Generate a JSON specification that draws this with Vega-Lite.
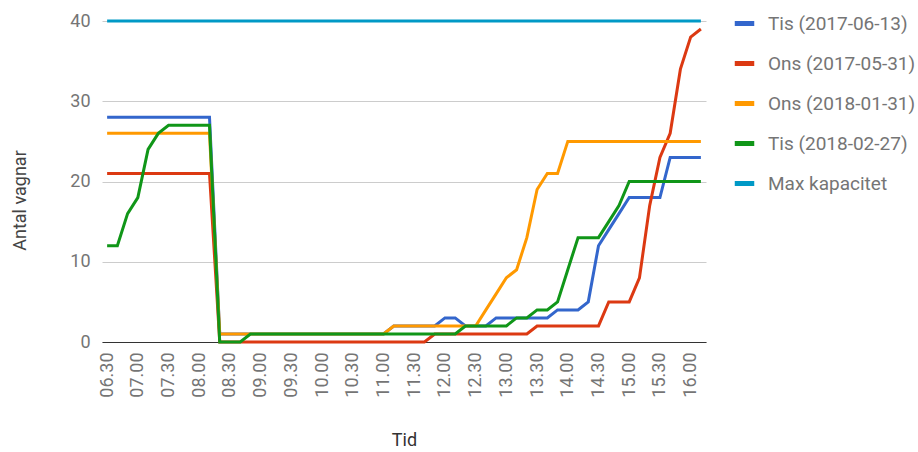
{
  "$schema": "https://vega.github.io/schema/vega-lite/v6.json",
  "width": 604,
  "height": 321,
  "autosize": "none",
  "padding": {"left": 102, "top": 21, "right": 212, "bottom": 110},
  "background": "white",
  "config": {
    "font": "Roboto",
    "view": {"stroke": null}
  },
  "data": {
    "values": [
      {"Tid": "06.30", "Tis (2017-06-13)": 28, "Ons (2017-05-31)": 21, "Ons (2018-01-31)": 26, "Tis (2018-02-27)": 12, "Max kapacitet": 40},
      {"Tid": "06.40", "Tis (2017-06-13)": 28, "Ons (2017-05-31)": 21, "Ons (2018-01-31)": 26, "Tis (2018-02-27)": 12, "Max kapacitet": 40},
      {"Tid": "06.50", "Tis (2017-06-13)": 28, "Ons (2017-05-31)": 21, "Ons (2018-01-31)": 26, "Tis (2018-02-27)": 16, "Max kapacitet": 40},
      {"Tid": "07.00", "Tis (2017-06-13)": 28, "Ons (2017-05-31)": 21, "Ons (2018-01-31)": 26, "Tis (2018-02-27)": 18, "Max kapacitet": 40},
      {"Tid": "07.10", "Tis (2017-06-13)": 28, "Ons (2017-05-31)": 21, "Ons (2018-01-31)": 26, "Tis (2018-02-27)": 24, "Max kapacitet": 40},
      {"Tid": "07.20", "Tis (2017-06-13)": 28, "Ons (2017-05-31)": 21, "Ons (2018-01-31)": 26, "Tis (2018-02-27)": 26, "Max kapacitet": 40},
      {"Tid": "07.30", "Tis (2017-06-13)": 28, "Ons (2017-05-31)": 21, "Ons (2018-01-31)": 26, "Tis (2018-02-27)": 27, "Max kapacitet": 40},
      {"Tid": "07.40", "Tis (2017-06-13)": 28, "Ons (2017-05-31)": 21, "Ons (2018-01-31)": 26, "Tis (2018-02-27)": 27, "Max kapacitet": 40},
      {"Tid": "07.50", "Tis (2017-06-13)": 28, "Ons (2017-05-31)": 21, "Ons (2018-01-31)": 26, "Tis (2018-02-27)": 27, "Max kapacitet": 40},
      {"Tid": "08.00", "Tis (2017-06-13)": 28, "Ons (2017-05-31)": 21, "Ons (2018-01-31)": 26, "Tis (2018-02-27)": 27, "Max kapacitet": 40},
      {"Tid": "08.10", "Tis (2017-06-13)": 28, "Ons (2017-05-31)": 21, "Ons (2018-01-31)": 26, "Tis (2018-02-27)": 27, "Max kapacitet": 40},
      {"Tid": "08.20", "Tis (2017-06-13)": 1, "Ons (2017-05-31)": 0, "Ons (2018-01-31)": 1, "Tis (2018-02-27)": 0, "Max kapacitet": 40},
      {"Tid": "08.30", "Tis (2017-06-13)": 1, "Ons (2017-05-31)": 0, "Ons (2018-01-31)": 1, "Tis (2018-02-27)": 0, "Max kapacitet": 40},
      {"Tid": "08.40", "Tis (2017-06-13)": 1, "Ons (2017-05-31)": 0, "Ons (2018-01-31)": 1, "Tis (2018-02-27)": 0, "Max kapacitet": 40},
      {"Tid": "08.50", "Tis (2017-06-13)": 1, "Ons (2017-05-31)": 0, "Ons (2018-01-31)": 1, "Tis (2018-02-27)": 1, "Max kapacitet": 40},
      {"Tid": "09.00", "Tis (2017-06-13)": 1, "Ons (2017-05-31)": 0, "Ons (2018-01-31)": 1, "Tis (2018-02-27)": 1, "Max kapacitet": 40},
      {"Tid": "09.10", "Tis (2017-06-13)": 1, "Ons (2017-05-31)": 0, "Ons (2018-01-31)": 1, "Tis (2018-02-27)": 1, "Max kapacitet": 40},
      {"Tid": "09.20", "Tis (2017-06-13)": 1, "Ons (2017-05-31)": 0, "Ons (2018-01-31)": 1, "Tis (2018-02-27)": 1, "Max kapacitet": 40},
      {"Tid": "09.30", "Tis (2017-06-13)": 1, "Ons (2017-05-31)": 0, "Ons (2018-01-31)": 1, "Tis (2018-02-27)": 1, "Max kapacitet": 40},
      {"Tid": "09.40", "Tis (2017-06-13)": 1, "Ons (2017-05-31)": 0, "Ons (2018-01-31)": 1, "Tis (2018-02-27)": 1, "Max kapacitet": 40},
      {"Tid": "09.50", "Tis (2017-06-13)": 1, "Ons (2017-05-31)": 0, "Ons (2018-01-31)": 1, "Tis (2018-02-27)": 1, "Max kapacitet": 40},
      {"Tid": "10.00", "Tis (2017-06-13)": 1, "Ons (2017-05-31)": 0, "Ons (2018-01-31)": 1, "Tis (2018-02-27)": 1, "Max kapacitet": 40},
      {"Tid": "10.10", "Tis (2017-06-13)": 1, "Ons (2017-05-31)": 0, "Ons (2018-01-31)": 1, "Tis (2018-02-27)": 1, "Max kapacitet": 40},
      {"Tid": "10.20", "Tis (2017-06-13)": 1, "Ons (2017-05-31)": 0, "Ons (2018-01-31)": 1, "Tis (2018-02-27)": 1, "Max kapacitet": 40},
      {"Tid": "10.30", "Tis (2017-06-13)": 1, "Ons (2017-05-31)": 0, "Ons (2018-01-31)": 1, "Tis (2018-02-27)": 1, "Max kapacitet": 40},
      {"Tid": "10.40", "Tis (2017-06-13)": 1, "Ons (2017-05-31)": 0, "Ons (2018-01-31)": 1, "Tis (2018-02-27)": 1, "Max kapacitet": 40},
      {"Tid": "10.50", "Tis (2017-06-13)": 1, "Ons (2017-05-31)": 0, "Ons (2018-01-31)": 1, "Tis (2018-02-27)": 1, "Max kapacitet": 40},
      {"Tid": "11.00", "Tis (2017-06-13)": 1, "Ons (2017-05-31)": 0, "Ons (2018-01-31)": 1, "Tis (2018-02-27)": 1, "Max kapacitet": 40},
      {"Tid": "11.10", "Tis (2017-06-13)": 2, "Ons (2017-05-31)": 0, "Ons (2018-01-31)": 2, "Tis (2018-02-27)": 1, "Max kapacitet": 40},
      {"Tid": "11.20", "Tis (2017-06-13)": 2, "Ons (2017-05-31)": 0, "Ons (2018-01-31)": 2, "Tis (2018-02-27)": 1, "Max kapacitet": 40},
      {"Tid": "11.30", "Tis (2017-06-13)": 2, "Ons (2017-05-31)": 0, "Ons (2018-01-31)": 2, "Tis (2018-02-27)": 1, "Max kapacitet": 40},
      {"Tid": "11.40", "Tis (2017-06-13)": 2, "Ons (2017-05-31)": 0, "Ons (2018-01-31)": 2, "Tis (2018-02-27)": 1, "Max kapacitet": 40},
      {"Tid": "11.50", "Tis (2017-06-13)": 2, "Ons (2017-05-31)": 1, "Ons (2018-01-31)": 2, "Tis (2018-02-27)": 1, "Max kapacitet": 40},
      {"Tid": "12.00", "Tis (2017-06-13)": 3, "Ons (2017-05-31)": 1, "Ons (2018-01-31)": 2, "Tis (2018-02-27)": 1, "Max kapacitet": 40},
      {"Tid": "12.10", "Tis (2017-06-13)": 3, "Ons (2017-05-31)": 1, "Ons (2018-01-31)": 2, "Tis (2018-02-27)": 1, "Max kapacitet": 40},
      {"Tid": "12.20", "Tis (2017-06-13)": 2, "Ons (2017-05-31)": 1, "Ons (2018-01-31)": 2, "Tis (2018-02-27)": 2, "Max kapacitet": 40},
      {"Tid": "12.30", "Tis (2017-06-13)": 2, "Ons (2017-05-31)": 1, "Ons (2018-01-31)": 2, "Tis (2018-02-27)": 2, "Max kapacitet": 40},
      {"Tid": "12.40", "Tis (2017-06-13)": 2, "Ons (2017-05-31)": 1, "Ons (2018-01-31)": 4, "Tis (2018-02-27)": 2, "Max kapacitet": 40},
      {"Tid": "12.50", "Tis (2017-06-13)": 3, "Ons (2017-05-31)": 1, "Ons (2018-01-31)": 6, "Tis (2018-02-27)": 2, "Max kapacitet": 40},
      {"Tid": "13.00", "Tis (2017-06-13)": 3, "Ons (2017-05-31)": 1, "Ons (2018-01-31)": 8, "Tis (2018-02-27)": 2, "Max kapacitet": 40},
      {"Tid": "13.10", "Tis (2017-06-13)": 3, "Ons (2017-05-31)": 1, "Ons (2018-01-31)": 9, "Tis (2018-02-27)": 3, "Max kapacitet": 40},
      {"Tid": "13.20", "Tis (2017-06-13)": 3, "Ons (2017-05-31)": 1, "Ons (2018-01-31)": 13, "Tis (2018-02-27)": 3, "Max kapacitet": 40},
      {"Tid": "13.30", "Tis (2017-06-13)": 3, "Ons (2017-05-31)": 2, "Ons (2018-01-31)": 19, "Tis (2018-02-27)": 4, "Max kapacitet": 40},
      {"Tid": "13.40", "Tis (2017-06-13)": 3, "Ons (2017-05-31)": 2, "Ons (2018-01-31)": 21, "Tis (2018-02-27)": 4, "Max kapacitet": 40},
      {"Tid": "13.50", "Tis (2017-06-13)": 4, "Ons (2017-05-31)": 2, "Ons (2018-01-31)": 21, "Tis (2018-02-27)": 5, "Max kapacitet": 40},
      {"Tid": "14.00", "Tis (2017-06-13)": 4, "Ons (2017-05-31)": 2, "Ons (2018-01-31)": 25, "Tis (2018-02-27)": 9, "Max kapacitet": 40},
      {"Tid": "14.10", "Tis (2017-06-13)": 4, "Ons (2017-05-31)": 2, "Ons (2018-01-31)": 25, "Tis (2018-02-27)": 13, "Max kapacitet": 40},
      {"Tid": "14.20", "Tis (2017-06-13)": 5, "Ons (2017-05-31)": 2, "Ons (2018-01-31)": 25, "Tis (2018-02-27)": 13, "Max kapacitet": 40},
      {"Tid": "14.30", "Tis (2017-06-13)": 12, "Ons (2017-05-31)": 2, "Ons (2018-01-31)": 25, "Tis (2018-02-27)": 13, "Max kapacitet": 40},
      {"Tid": "14.40", "Tis (2017-06-13)": 14, "Ons (2017-05-31)": 5, "Ons (2018-01-31)": 25, "Tis (2018-02-27)": 15, "Max kapacitet": 40},
      {"Tid": "14.50", "Tis (2017-06-13)": 16, "Ons (2017-05-31)": 5, "Ons (2018-01-31)": 25, "Tis (2018-02-27)": 17, "Max kapacitet": 40},
      {"Tid": "15.00", "Tis (2017-06-13)": 18, "Ons (2017-05-31)": 5, "Ons (2018-01-31)": 25, "Tis (2018-02-27)": 20, "Max kapacitet": 40},
      {"Tid": "15.10", "Tis (2017-06-13)": 18, "Ons (2017-05-31)": 8, "Ons (2018-01-31)": 25, "Tis (2018-02-27)": 20, "Max kapacitet": 40},
      {"Tid": "15.20", "Tis (2017-06-13)": 18, "Ons (2017-05-31)": 17, "Ons (2018-01-31)": 25, "Tis (2018-02-27)": 20, "Max kapacitet": 40},
      {"Tid": "15.30", "Tis (2017-06-13)": 18, "Ons (2017-05-31)": 23, "Ons (2018-01-31)": 25, "Tis (2018-02-27)": 20, "Max kapacitet": 40},
      {"Tid": "15.40", "Tis (2017-06-13)": 23, "Ons (2017-05-31)": 26, "Ons (2018-01-31)": 25, "Tis (2018-02-27)": 20, "Max kapacitet": 40},
      {"Tid": "15.50", "Tis (2017-06-13)": 23, "Ons (2017-05-31)": 34, "Ons (2018-01-31)": 25, "Tis (2018-02-27)": 20, "Max kapacitet": 40},
      {"Tid": "16.00", "Tis (2017-06-13)": 23, "Ons (2017-05-31)": 38, "Ons (2018-01-31)": 25, "Tis (2018-02-27)": 20, "Max kapacitet": 40},
      {"Tid": "16.10", "Tis (2017-06-13)": 23, "Ons (2017-05-31)": 39, "Ons (2018-01-31)": 25, "Tis (2018-02-27)": 20, "Max kapacitet": 40}
    ]
  },
  "transform": [
    {"fold": ["Tis (2017-06-13)", "Ons (2017-05-31)", "Ons (2018-01-31)", "Tis (2018-02-27)", "Max kapacitet"], "as": ["Serie", "Antal"]}
  ],
  "mark": {"type": "line", "strokeWidth": 3},
  "encoding": {
    "x": {
      "field": "Tid",
      "type": "ordinal",
      "sort": null,
      "scale": {"type": "point", "padding": 0.5},
      "axis": {
        "title": "Tid",
        "values": ["06.30", "07.00", "07.30", "08.00", "08.30", "09.00", "09.30", "10.00", "10.30", "11.00", "11.30", "12.00", "12.30", "13.00", "13.30", "14.00", "14.30", "15.00", "15.30", "16.00"],
        "labelAngle": -90,
        "labelFontSize": 18,
        "labelColor": "#757575",
        "labelPadding": 10,
        "ticks": false,
        "tickSize": 0,
        "grid": false,
        "domainColor": "#333333",
        "domainWidth": 1,
        "titleFontSize": 18,
        "titleFontWeight": "normal",
        "titleColor": "#333333",
        "titlePadding": 34
      }
    },
    "y": {
      "field": "Antal",
      "type": "quantitative",
      "scale": {"domain": [0, 40], "nice": false},
      "axis": {
        "title": "Antal vagnar",
        "values": [0, 10, 20, 30, 40],
        "labelFontSize": 18,
        "labelColor": "#757575",
        "labelPadding": 12,
        "ticks": false,
        "tickSize": 0,
        "domain": false,
        "grid": true,
        "gridColor": "#cccccc",
        "gridWidth": 1,
        "titleFontSize": 18,
        "titleFontWeight": "normal",
        "titleColor": "#444444",
        "titlePadding": 40,
        "titleY": 179
      }
    },
    "color": {
      "field": "Serie",
      "type": "nominal",
      "sort": null,
      "scale": {
        "domain": ["Tis (2017-06-13)", "Ons (2017-05-31)", "Ons (2018-01-31)", "Tis (2018-02-27)", "Max kapacitet"],
        "range": ["#3366cc", "#dc3912", "#ff9900", "#109618", "#0099c6"]
      },
      "legend": {
        "title": null,
        "orient": "none",
        "legendX": 630,
        "legendY": -10,
        "symbolType": "stroke",
        "symbolStrokeWidth": 5,
        "symbolSize": 380,
        "labelFontSize": 19,
        "labelColor": "#757575",
        "labelOffset": 11,
        "labelLimit": 300,
        "rowPadding": 17
      }
    }
  }
}
